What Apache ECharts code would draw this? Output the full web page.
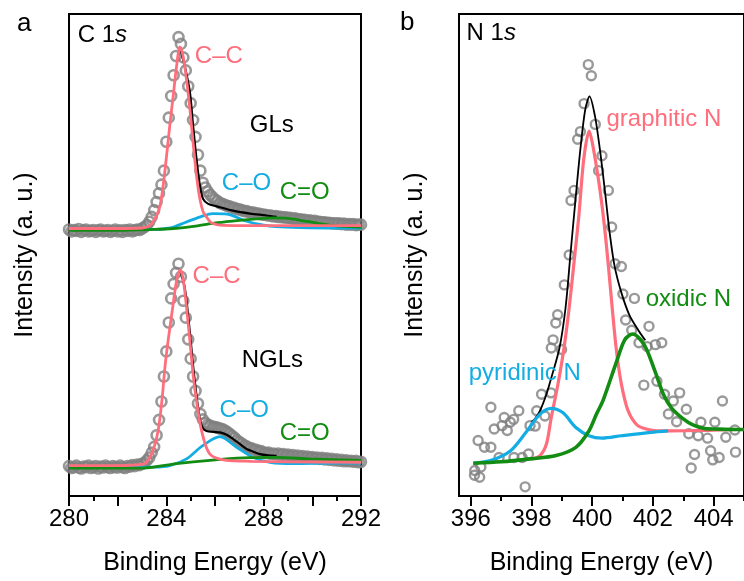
<!DOCTYPE html>
<html>
<head>
<meta charset="utf-8">
<script src="https://cdn.jsdelivr.net/npm/echarts@6/dist/echarts.min.js"></script>
<style>html,body{margin:0;padding:0;background:#fff}#c{width:744px;height:581px}</style>
</head>
<body>
<div id="c"></div>
<script>
// ---------- Panel a: C 1s ----------
const cStart = 280.0, cStep = 0.1;
const glsData = [
  55.3,54.9,55.2,55.0,55.4,54.8,55.1,55.3,54.9,55.0,
  55.2,54.8,55.1,55.3,54.9,55.0,55.2,54.8,55.0,55.3,
  54.9,55.1,54.8,55.2,55.0,55.3,54.9,55.1,55.3,55.2,
  55.5,55.8,56.2,56.9,57.9,59.3,61.0,62.8,64.6,67.5,
  73.5,78.5,83.0,87.3,91.3,95.2,93.8,91.0,88.3,85.0,
  81.5,78.0,74.5,70.8,67.5,65.0,64.0,63.2,62.5,62.0,
  61.5,61.2,60.8,60.6,60.4,60.2,60.1,59.8,59.8,59.5,
  59.5,59.3,59.1,59.1,58.9,58.8,58.8,58.6,58.6,58.4,
  58.4,58.3,58.2,58.2,58.0,58.1,57.9,57.9,57.8,57.8,
  57.7,57.7,57.5,57.6,57.4,57.4,57.3,57.3,57.1,57.2,
  57.0,57.1,56.9,56.9,56.8,56.8,56.7,56.7,56.6,56.6,
  56.5,56.6,56.4,56.5,56.3,56.4,56.3,56.4,56.2,56.3,
  56.3
];
const nglsData = [
  6.2,5.8,6.0,6.3,5.9,5.7,6.1,6.0,6.3,5.8,
  6.0,6.2,5.7,6.1,5.9,6.3,6.0,5.8,6.2,6.0,
  5.9,6.3,6.0,5.8,6.2,6.1,6.4,6.2,6.5,6.4,
  6.7,6.9,7.4,8.0,9.0,10.2,12.6,15.8,19.6,24.8,
  30.0,36.0,41.0,44.0,46.3,48.2,45.5,40.5,37.0,32.5,
  28.5,24.8,21.8,19.2,17.0,15.9,15.2,14.8,14.6,14.4,
  14.3,14.2,14.0,13.9,13.6,13.3,12.9,12.5,12.1,11.6,
  11.2,10.9,10.5,10.3,10.0,9.9,9.6,9.6,9.3,9.3,
  9.0,8.9,9.0,8.7,8.8,8.6,8.8,8.5,8.7,8.4,
  8.6,8.3,8.5,8.2,8.4,8.1,8.3,8.0,8.2,7.9,
  8.1,7.8,8.0,7.7,7.9,7.6,7.8,7.5,7.7,7.4,
  7.6,7.3,7.5,7.2,7.4,7.2,7.3,7.1,7.3,7.0,
  7.1
];
const glsCC = [[280,55.5],[282,55.5],[283,55.6],[283.32,56.1],[283.53,57.5],[283.73,60.0],[283.87,64.4],[284.01,70.6],[284.14,76.8],[284.28,82.9],[284.42,89.1],[284.56,93.2],[284.69,91.2],[284.83,86.4],[284.97,80.2],[285.10,73.3],[285.24,66.5],[285.38,61.6],[285.51,59.0],[285.65,57.9],[285.8,56.9],[285.93,56.5],[286.2,56.2],[287,56.1],[288,56.1],[290,56.1],[292,56.1]];
const glsCO = [[280,55.3],[283.5,55.3],[284.0,55.5],[284.3,55.8],[284.8,56.8],[285.4,57.9],[285.9,58.6],[286.5,58.5],[287.3,57.0],[288.0,56.2],[288.5,55.9],[289.5,55.7],[290.9,55.6],[292,55.6]];
const glsCdO = [[280,55.1],[282,55.1],[283.5,55.3],[284.3,55.5],[285.2,56.0],[286.1,56.7],[287.0,57.2],[287.7,57.5],[288.4,57.7],[289.0,57.6],[289.5,57.2],[290.2,56.6],[290.9,56.1],[291.5,55.9],[292,55.8]];
const glsFit = [[284.56,93.2],[284.76,89.1],[284.97,83.7],[285.10,76.8],[285.24,69.9],[285.38,64.4],[285.51,61.65],[285.72,60.6],[286.07,60.1],[286.74,59.2],[287.44,58.6],[288.12,58.2],[288.53,57.9]];

const nglsCC = [[280,6.3],[282,6.3],[283.05,6.6],[283.39,8.7],[283.66,13.5],[283.83,20.4],[283.94,26.6],[284.07,32.1],[284.28,39.8],[284.42,44.6],[284.56,46.9],[284.66,45.8],[284.76,42.4],[284.97,32.1],[285.10,25.2],[285.24,19.7],[285.45,13.5],[285.79,8.7],[286.48,7.4],[287.5,7.2],[289,7.1],[292,7.0]];
const nglsCO = [[280,6.0],[283.5,6.0],[284.14,6.3],[284.83,7.7],[285.51,10.5],[286.2,12.3],[286.89,10.1],[287.57,8.0],[288.26,7.0],[289.22,6.7],[290.9,6.8],[292,6.8]];
const nglsCdO = [[280,5.8],[283.05,5.8],[284.42,6.7],[285.79,7.4],[287.16,7.9],[288.53,8.0],[289.9,7.7],[292,7.4]];
const nglsFit = [[284.56,46.9],[284.76,43.1],[284.97,33.8],[285.10,27.0],[285.24,20.8],[285.38,15.8],[285.51,14.0],[285.65,13.5],[285.93,13.3],[286.20,13.2],[286.48,12.7],[286.75,11.8],[287.02,10.8],[287.30,9.75],[287.57,9.2],[287.85,8.7],[288.19,8.45],[288.53,8.35]];

// ---------- Panel b: N 1s ----------
const nEnergy = [396.12,396.13,396.24,396.29,396.33,396.45,396.66,396.66,396.77,396.93,397.03,397.10,397.20,397.30,397.41,397.42,397.58,397.69,397.79,397.90,397.95,398.12,398.17,398.33,398.44,398.64,398.65,398.71,398.80,398.86,398.99,399.08,399.24,399.30,399.40,399.52,399.61,399.73,399.87,399.97,400.10,400.21,400.32,400.53,400.64,400.75,400.96,401.01,401.10,401.30,401.39,401.54,401.70,401.81,401.87,402.08,402.13,402.29,402.38,402.51,402.67,402.78,402.88,403.10,403.18,403.26,403.37,403.49,403.58,403.80,403.90,403.97,404.04,404.18,404.29,404.40,404.70,404.72];
const nIntensity = [4.3,5.3,11.5,3.9,6.0,10.1,18.4,10.1,13.9,8.0,14.6,16.3,13.6,15.3,15.9,8.0,17.7,8.0,1.9,8.7,14.6,14.5,17.7,21.1,16.6,21.4,30.7,32.4,35.9,37.6,30.4,43.8,50.0,61.3,63.4,74.0,75.6,81.4,89.5,87.2,77.1,67.5,70.6,63.4,55.8,48.2,47.6,41.9,36.5,34.4,41.0,31.8,23.0,31.0,35.2,31.4,23.8,31.8,21.1,17.0,19.7,15.4,21.4,18.0,12.9,5.8,8.6,12.5,15.3,12.0,9.4,7.5,15.3,8.0,19.7,12.2,13.7,9.1];
const graphiticN = [[398.0,7.7],[398.28,8.4],[398.49,10.8],[398.65,16.3],[398.87,23.2],[399.07,30.7],[399.23,38.5],[399.40,48.5],[399.56,58.2],[399.72,69.9],[399.90,75.7],[400.04,72.0],[400.25,63.7],[400.41,55.5],[400.55,46.5],[400.68,37.5],[400.80,30.0],[400.96,23.2],[401.18,17.7],[401.50,14.6],[401.93,13.7],[402.46,13.5],[403.5,13.6],[404.78,13.8],[405,13.8]];
const pyridinicN = [[396.08,6.8],[396.67,7.4],[397.31,9.4],[397.85,13.5],[398.28,17.0],[398.65,18.2],[399.03,17.3],[399.46,14.2],[399.89,12.5],[400.32,12.0],[400.96,12.5],[401.93,13.2],[402.5,13.5]];
const oxidicN = [[396.08,6.8],[397.0,7.1],[397.95,7.7],[398.81,8.4],[399.46,10.1],[399.89,13.5],[400.14,17.0],[400.36,19.9],[400.77,27.3],[401.07,32.4],[401.33,33.6],[401.71,31.4],[402.06,26.0],[402.35,21.0],[402.62,18.2],[403.0,16.0],[403.3,14.8],[403.69,14.0],[404.07,13.9],[404.78,13.8],[405,13.8]];
const nFit = [[398.0,15.4],[398.1,15.9],[398.28,17.7],[398.49,21.1],[398.65,24.5],[398.92,30.7],[399.12,39.0],[399.28,50.0],[399.45,61.6],[399.61,72.0],[399.77,80.2],[399.91,82.9],[400.09,78.8],[400.25,72.0],[400.41,63.7],[400.57,54.8],[400.73,47.9],[400.95,42.4],[401.22,37.6],[401.54,34.2],[401.75,32.3]];

const cLabelTicks = [280,284,288,292];
const nMajorTicks = [396,398,400,402,404];
const nMinorTicks = [397,399,401,403,405];

const RED = '#ff6e7c', BLUE = '#14ade3', GREEN = '#128c12', GRAY = '#7f7f7f';
const FONT = 'Liberation Sans, Arial, sans-serif';

const chart = echarts.init(document.getElementById('c'), null, {renderer: 'canvas'});

const gridW = 292, gridH = 485, gridTop = 14;
const tickStyle = {color: '#000', width: 2};
function baseX(extra) {
  return Object.assign({
    type: 'value',
    splitLine: {show: false},
    axisLine: {show: true, onZero: false, lineStyle: {color: '#000', width: 2}},
    axisTick: {show: true, inside: false, length: 10, lineStyle: tickStyle},
    axisLabel: {color: '#000', fontSize: 24, fontFamily: FONT, margin: 11},
    nameLocation: 'middle', nameGap: 55,
    nameTextStyle: {color: '#000', fontSize: 25, fontFamily: FONT}
  }, extra);
}
function baseY(gi) {
  return {
    gridIndex: gi, type: 'value', min: 0, max: 100,
    axisLine: {show: false}, axisTick: {show: false}, axisLabel: {show: false}, splitLine: {show: false},
    name: 'Intensity (a. u.)', nameLocation: 'middle', nameGap: 31, nameRotate: 90,
    nameTextStyle: {color: '#000', fontSize: 25, fontFamily: FONT}
  };
}
const cEnergies = glsData.map((_, i) => +(cStart + i * cStep).toFixed(1));
function pairs(xs, ys) { return xs.map((x, i) => [x, ys[i]]); }
function scat(data, xi, size, bw) {
  return {type: 'scatter', xAxisIndex: xi, yAxisIndex: xi === 0 ? 0 : 1, data: data, symbol: 'circle', symbolSize: size,
    itemStyle: {color: 'rgba(0,0,0,0)', borderColor: GRAY, borderWidth: bw}, silent: true, z: 1};
}
function line(data, xi, color, w, z) {
  return {type: 'line', xAxisIndex: xi, yAxisIndex: xi === 0 ? 0 : 1, data: data, showSymbol: false, smooth: 0.3,
    lineStyle: {color: color, width: w}, z: z, silent: true};
}

chart.setOption({
  animation: false,
  backgroundColor: '#fff',
  grid: [
    {left: 69, top: gridTop, width: gridW, height: gridH, show: true, borderColor: '#000', borderWidth: 2},
    {left: 459, top: gridTop, width: gridW, height: gridH, show: true, borderColor: '#000', borderWidth: 2}
  ],
  xAxis: [
    baseX({gridIndex: 0, min: 280, max: 292, interval: 2,
      minorTick: {show: true, splitNumber: 2, length: 5, lineStyle: tickStyle},
      axisLabel: {color: '#000', fontSize: 24, fontFamily: FONT, margin: 11, showMinLabel: true, showMaxLabel: true,
        formatter: v => (cLabelTicks.indexOf(v) >= 0 ? String(v) : '')},
      name: 'Binding Energy (eV)'}),
    baseX({gridIndex: 1, min: 395.61, max: 405,
      axisTick: {show: true, inside: false, length: 10, lineStyle: tickStyle, customValues: nMajorTicks},
      axisLabel: {color: '#000', fontSize: 24, fontFamily: FONT, margin: 11, customValues: nMajorTicks},
      name: 'Binding Energy (eV)'}),
    baseX({gridIndex: 1, min: 395.61, max: 405, position: 'bottom', offset: 0,
      axisLine: {show: false},
      axisTick: {show: true, inside: false, length: 5, lineStyle: tickStyle, customValues: nMinorTicks},
      axisLabel: {show: false}, name: ''})
  ],
  yAxis: [baseY(0), baseY(1)],
  series: [
    scat(pairs(cEnergies, glsData), 0, 10, 2.6),
    scat(pairs(cEnergies, nglsData), 0, 10, 2.6),
    line(glsFit, 0, '#000', 2.2, 3),
    line(glsCO, 0, BLUE, 2.8, 4),
    line(glsCdO, 0, GREEN, 2.8, 5),
    line(glsCC, 0, RED, 2.8, 6),
    line(nglsFit, 0, '#000', 2.2, 3),
    line(nglsCO, 0, BLUE, 2.8, 4),
    line(nglsCdO, 0, GREEN, 2.8, 5),
    line(nglsCC, 0, RED, 2.8, 6),
    scat(pairs(nEnergy, nIntensity), 1, 9, 2.4),
    line(nFit, 1, '#000', 1.8, 3),
    line(graphiticN, 1, RED, 3.2, 4),
    line(pyridinicN, 1, BLUE, 3.2, 5),
    line(oxidicN, 1, GREEN, 3.6, 6)
  ]
});

// annotations anchored in data coordinates
const notes = [
  {g: 0, at: [280.36, 95.5], text: 'C 1{i|s}', color: '#000'},
  {g: 0, at: [285.17, 91.2], text: 'C\u2013C', color: RED},
  {g: 0, at: [287.43, 76.9], text: 'GLs', color: '#000'},
  {g: 0, at: [286.28, 64.9], text: 'C\u2013O', color: BLUE},
  {g: 0, at: [288.66, 62.9], text: 'C=O', color: GREEN},
  {g: 0, at: [285.08, 45.6], text: 'C\u2013C', color: RED},
  {g: 0, at: [287.10, 28.2], text: 'NGLs', color: '#000'},
  {g: 0, at: [286.19, 17.7], text: 'C\u2013O', color: BLUE},
  {g: 0, at: [288.66, 13.0], text: 'C=O', color: GREEN},
  {g: 1, at: [395.86, 95.9], text: 'N 1{i|s}', color: '#000'},
  {g: 1, at: [400.47, 78.1], text: 'graphitic N', color: RED},
  {g: 1, at: [401.76, 40.8], text: 'oxidic N', color: GREEN},
  {g: 1, at: [395.93, 25.4], text: 'pyridinic N', color: BLUE}
];
const graphics = notes.map(n => {
  const p = chart.convertToPixel({gridIndex: n.g}, n.at);
  return {type: 'text', x: p[0], y: p[1], silent: true, z: 10,
    style: {text: n.text, fill: n.color, font: '24px ' + FONT, textAlign: 'left', textVerticalAlign: 'middle',
      rich: {i: {fontStyle: 'italic', fontSize: 24, fontFamily: FONT, fill: n.color}}}};
});
graphics.push({type: 'text', x: 17, y: 24, style: {text: 'a', fill: '#000', font: '26px ' + FONT, textVerticalAlign: 'middle'}});
graphics.push({type: 'text', x: 400, y: 23, style: {text: 'b', fill: '#000', font: '26px ' + FONT, textVerticalAlign: 'middle'}});
chart.setOption({graphic: graphics});
</script>
</body>
</html>
